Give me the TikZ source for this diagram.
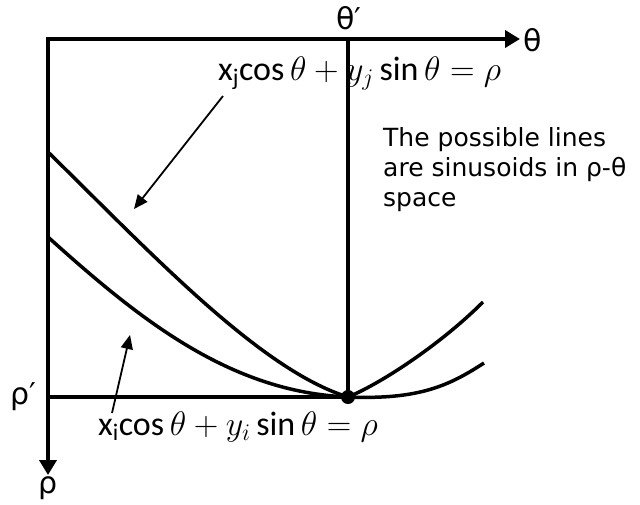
\RequirePackage{fix-cm}
\documentclass[tikz,border=0pt]{standalone}
\usepackage{fontspec}
\setmainfont{DejaVu Sans}
\newfontfamily\eqfont{Carlito}
\usetikzlibrary{arrows.meta}

\begin{document}
\begin{tikzpicture}[
      x=1pt, y=-1pt,
      axis/.style  = {line width=4pt, line cap=rect,
                      -{Triangle[length=15pt,width=17pt]}},
      guide/.style = {line width=4pt},
      curve/.style = {line width=3.5pt},
      lead/.style  = {line width=1.8pt, -{Triangle[length=14pt,width=12pt]}},
      lbl/.style   = {font=\fontsize{30pt}{32pt}\selectfont, inner sep=0pt},
      note/.style  = {font=\fontsize{25pt}{30pt}\selectfont, inner sep=0pt,
                      anchor=base west, align=left},
      eqn/.style   = {font=\fontsize{34pt}{36pt}\selectfont, inner sep=0pt,
                      anchor=base west},
      dot/.style   = {circle, fill, inner sep=0pt, minimum size=14pt},
    ]
    \useasboundingbox (0,0) rectangle (640,504);

    % axes
    \coordinate (O)     at (48,39);
    \coordinate (thend) at (520,39);
    \coordinate (rhend) at (48,475);
    \node[dot] (cross) at (348,397) {};
    \draw[axis] (O) -- (thend);
    \draw[axis] (O) -- (rhend);
    \draw[guide] (O -| cross) -- (cross.center);
    \draw[guide] (O |- cross) -- (cross.center);

    % the two sinusoids
    \draw[curve] (48,152) .. controls (150,252) and (260,370) .. (cross.center)
                 .. controls (380,384) and (440,345) .. (483,302);
    \draw[curve] (48,237) .. controls (140,320) and (230,392) .. (cross.center)
                 .. controls (420,400) and (450,385) .. (484,363);

    % axis labels
    \node[lbl] (thp) at (349,18)  {θ′};
    \node[lbl] (th)  at (533,40)  {θ};
    \node[lbl] (rhp) at (23,397)  {ρ′};
    \node[lbl] (rh)  at (48,488)  {ρ};

    % equations and note
    \node[eqn] (eqj) at (218,80)
      {{\eqfont x\textsubscript{j}cos}\,$\theta + y_j$\,{\eqfont sin}\,$\theta = \rho$};
    \node[eqn] (eqi) at (98,435)
      {{\eqfont x\textsubscript{i}cos}\,$\theta + y_i$\,{\eqfont sin}\,$\theta = \rho$};
    \node[note] (txt) at (383,206)
      {The possible lines\\are sinusoids in ρ-θ\\space};

    % leaders
    \coordinate (jtail) at (223,96);
    \coordinate (jtip)  at (134,209);
    \coordinate (itail) at (112,413);
    \coordinate (itip)  at (130,335);
    \draw[lead] (jtail) -- (jtip);
    \draw[lead] (itail) -- (itip);
\end{tikzpicture}
\end{document}
